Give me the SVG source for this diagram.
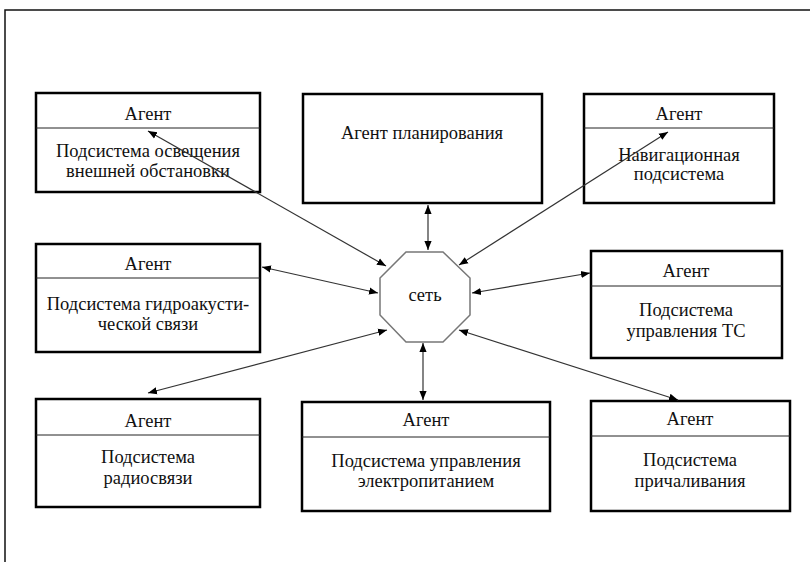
<svg xmlns="http://www.w3.org/2000/svg" width="810" height="562" viewBox="0 0 810 562">
<style>
.box{fill:#fff;stroke:#000;stroke-width:2.5}
.div{stroke:#222;stroke-width:1}
.t{font-family:"Liberation Serif","Times New Roman",serif;font-size:18.5px;fill:#111;text-anchor:middle}
.c{stroke:#333;stroke-width:1.2;fill:none;marker-start:url(#ah);marker-end:url(#ah)}
</style>
<defs>
<marker id="ah" viewBox="0 0 10 10" refX="10" refY="5" markerWidth="9" markerHeight="9" markerUnits="userSpaceOnUse" orient="auto-start-reverse">
<path d="M0,1 L10,5 L0,9 z" fill="#000"/>
</marker>
</defs>
<rect width="810" height="562" fill="#fff"/>
<path d="M5,562 V10 H810" fill="none" stroke="#111" stroke-width="1.5"/>

<g id="agent-osveshchenie">
<rect class="box" x="36" y="93" width="224" height="99"/>
<line class="div" x1="36" y1="128" x2="260" y2="128"/>
<text class="t" x="148" y="120">Агент</text>
<text class="t" x="148" y="157">Подсистема освещения</text>
<text class="t" x="148" y="177">внешней обстановки</text>
</g>

<g id="agent-planirovaniya">
<rect class="box" x="303" y="94" width="239" height="109"/>
<text class="t" x="422" y="139">Агент планирования</text>
</g>

<g id="agent-navigatsiya">
<rect class="box" x="584" y="94" width="190" height="109"/>
<line class="div" x1="584" y1="128" x2="774" y2="128"/>
<text class="t" x="679" y="120">Агент</text>
<text class="t" x="679" y="161">Навигационная</text>
<text class="t" x="679" y="180">подсистема</text>
</g>

<g id="agent-gidroakustika">
<rect class="box" x="36" y="244" width="224" height="108"/>
<line class="div" x1="36" y1="278" x2="260" y2="278"/>
<text class="t" x="148" y="270">Агент</text>
<text class="t" x="148" y="310">Подсистема гидроакусти-</text>
<text class="t" x="148" y="330">ческой связи</text>
</g>

<g id="set">
<polygon points="406,252 443,252 470,278 470,315 443,342 406,342 380,315 380,278" fill="#fff" stroke="#777" stroke-width="1.5"/>
<text class="t" x="425" y="301">сеть</text>
</g>

<g id="agent-upravlenie-ts">
<rect class="box" x="591" y="251" width="191" height="107"/>
<line class="div" x1="591" y1="286" x2="782" y2="286"/>
<text class="t" x="686" y="277">Агент</text>
<text class="t" x="686" y="316">Подсистема</text>
<text class="t" x="686" y="337">управления  ТС</text>
</g>

<g id="agent-radiosvyaz">
<rect class="box" x="36" y="399" width="224" height="108"/>
<line class="div" x1="36" y1="435" x2="260" y2="435"/>
<text class="t" x="148" y="427">Агент</text>
<text class="t" x="148" y="463">Подсистема</text>
<text class="t" x="148" y="484">радиосвязи</text>
</g>

<g id="agent-elektropitanie">
<rect class="box" x="302" y="402" width="248" height="109"/>
<line class="div" x1="302" y1="437" x2="550" y2="437"/>
<text class="t" x="426" y="426">Агент</text>
<text class="t" x="426" y="467">Подсистема управления</text>
<text class="t" x="426" y="487">электропитанием</text>
</g>

<g id="agent-prichalivanie">
<rect class="box" x="591" y="401" width="199" height="110"/>
<line class="div" x1="591" y1="436" x2="790" y2="436"/>
<text class="t" x="690" y="425">Агент</text>
<text class="t" x="690" y="466">Подсистема</text>
<text class="t" x="690" y="487">причаливания</text>
</g>

<g id="connectors">
<line class="c" x1="386" y1="266" x2="148" y2="131"/>
<line class="c" x1="428" y1="250" x2="428" y2="205"/>
<line class="c" x1="459" y1="265" x2="668" y2="132"/>
<line class="c" x1="378" y1="293" x2="262" y2="267"/>
<line class="c" x1="472" y1="293" x2="590" y2="273"/>
<line class="c" x1="387" y1="330" x2="148" y2="393"/>
<line class="c" x1="423" y1="343" x2="423" y2="400"/>
<line class="c" x1="459" y1="330" x2="678" y2="400"/>
</g>
</svg>
